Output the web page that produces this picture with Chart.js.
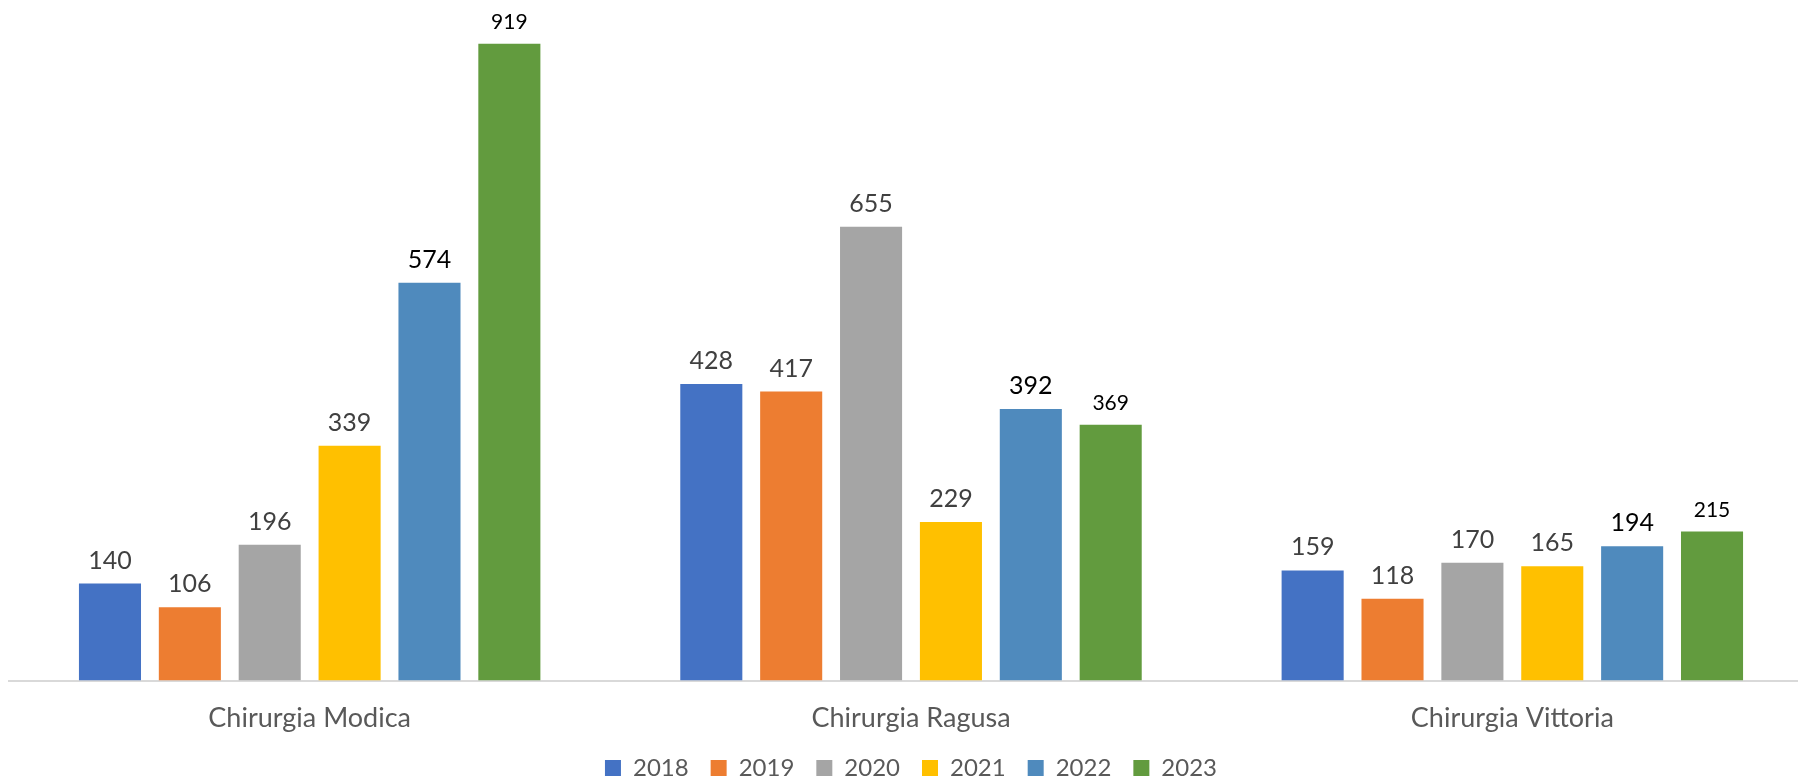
<!DOCTYPE html>
<html><head><meta charset="utf-8">
<script src="https://cdn.jsdelivr.net/npm/chart.js@4.4.1/dist/chart.umd.min.js"></script>
<style>
html,body{margin:0;padding:0;background:#fff;overflow:hidden;width:1798px;height:781px;}
#wrap{position:absolute;left:0;top:0;width:1830px;height:790px;}
</style></head><body>
<div id="wrap"><canvas id="c"></canvas></div>
<script>
const categories = ['Chirurgia Modica', 'Chirurgia Ragusa', 'Chirurgia Vittoria'];
const years = ['2018', '2019', '2020', '2021', '2022', '2023'];
const v2018 = [140, 428, 159];
const v2019 = [106, 417, 118];
const v2020 = [196, 655, 170];
const v2021 = [339, 229, 165];
const v2022 = [574, 392, 194];
const v2023 = [919, 369, 215];

const seriesValues = [v2018, v2019, v2020, v2021, v2022, v2023];
const seriesColors = ['#4472C4', '#ED7D31', '#A5A5A5', '#FFC000', '#4F8ABD', '#629B3E'];
const labelStyles = [
  {size: 25, color: '#404040'},
  {size: 25, color: '#404040'},
  {size: 25, color: '#404040'},
  {size: 25, color: '#404040'},
  {size: 25, color: '#000000'},
  {size: 21, color: '#000000'}
];
const FONT = 'Lato, "Open Sans", sans-serif';

const valueLabels = {
  id: 'valueLabels',
  afterDatasetsDraw(chart) {
    const ctx = chart.ctx;
    chart.data.datasets.forEach((ds, i) => {
      const meta = chart.getDatasetMeta(i);
      if (meta.hidden) return;
      const st = labelStyles[i];
      ctx.save();
      ctx.font = st.size + 'px ' + FONT;
      ctx.fillStyle = st.color;
      ctx.textAlign = 'center';
      ctx.textBaseline = 'alphabetic';
      meta.data.forEach((el, j) => {
        ctx.fillText(String(ds.data[j]), el.x, el.y - 15);
      });
      ctx.restore();
    });
  }
};

Chart.defaults.font.family = FONT;

const chart = new Chart(document.getElementById('c'), {
  type: 'bar',
  data: {
    labels: categories,
    datasets: years.map((y, i) => ({
      label: y,
      data: seriesValues[i],
      backgroundColor: seriesColors[i],
      borderWidth: 0,
      categoryPercentage: 0.797,
      barPercentage: 0.777
    }))
  },
  options: {
    responsive: true,
    maintainAspectRatio: false,
    animation: false,
    layout: {padding: {left: 9, right: 17, top: 0, bottom: 0}},
    plugins: {
      legend: {
        position: 'bottom',
        labels: {
          boxWidth: 16, boxHeight: 16, padding: 22,
          color: '#595959',
          font: {size: 24}
        }
      },
      tooltip: {enabled: false}
    },
    scales: {
      x: {
        grid: {display: false, tickLength: 21},
        border: {display: true, color: '#D9D9D9', width: 2},
        ticks: {color: '#595959', font: {size: 27}, padding: 0}
      },
      y: {
        display: false,
        min: 0,
        max: 982
      }
    }
  },
  plugins: [valueLabels]
});
</script>
</body></html>
